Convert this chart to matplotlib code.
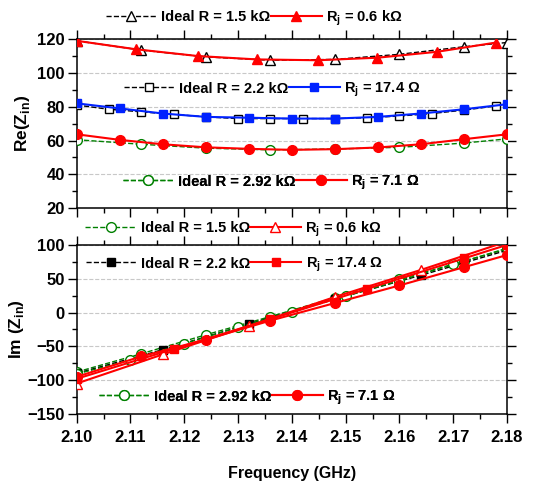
import numpy as np
import matplotlib
matplotlib.use('Agg')
import matplotlib.pyplot as plt
from matplotlib.lines import Line2D
from matplotlib.ticker import MultipleLocator, FormatStrFormatter

plt.rcParams['font.family'] = ['Liberation Sans', 'DejaVu Sans']
plt.rcParams['font.weight'] = 'bold'
plt.rcParams['mathtext.fontset'] = 'custom'
plt.rcParams['mathtext.rm'] = 'Liberation Sans:bold'
plt.rcParams['mathtext.bf'] = 'Liberation Sans:bold'

# ---- Re(Zin) data ----
f_re_tri_open = [2.100, 2.112, 2.124, 2.136, 2.148, 2.160, 2.172, 2.180]
re_ideal_15k = [119, 113.5, 109.5, 107.5, 108, 111, 115.5, 118]
f_re_tri = [2.100, 2.111, 2.1225, 2.1335, 2.1448, 2.1559, 2.167, 2.178]
re_rj_06k = [119, 114, 110, 108, 107.5, 109, 112.5, 118]

f_re_sq_open = [2.100, 2.106, 2.112, 2.118, 2.124, 2.130, 2.136, 2.142, 2.148,
                2.154, 2.160, 2.166, 2.172, 2.178]
re_ideal_22k = [81, 78.5, 77, 75.5, 74, 73, 73, 73, 73, 73.5, 74.5, 76, 78, 80.5]
f_re_sq = [2.100, 2.108, 2.116, 2.124, 2.132, 2.140, 2.148, 2.156, 2.164, 2.172, 2.180]
re_rj_174 = [82, 79, 76, 74, 73.5, 73, 73, 74, 76, 78.5, 81.5]

f_re_circ_open = [2.100, 2.112, 2.124, 2.136, 2.148, 2.160, 2.172, 2.180]
re_ideal_292k = [60.5, 57.8, 55.5, 54.5, 55, 56, 58.5, 61]
f_re_circ = [2.100, 2.108, 2.116, 2.124, 2.132, 2.140, 2.148, 2.156, 2.164, 2.172, 2.180]
re_rj_71 = [63.7, 60.4, 57.8, 56.0, 55.1, 54.5, 54.9, 55.9, 57.8, 60.8, 63.7]

# ---- Im(Zin) data ----
f_im_15k = [2.100, 2.112, 2.124, 2.136, 2.148, 2.160, 2.172, 2.180]
im_ideal_15k = [-88, -61, -33, -6, 22, 49, 76, 94]
f_im_06k = [2.100, 2.116, 2.132, 2.148, 2.164, 2.180]
im_rj_06k = [-105, -62, -20, 23, 63, 105]

f_im_22k = [2.100, 2.116, 2.132, 2.148, 2.164, 2.180]
im_ideal_22k = [-90, -55, -17, 20, 55, 92]
f_im_174 = [2.100, 2.118, 2.136, 2.154, 2.172, 2.180]
im_rj_174 = [-98, -54, -10, 35, 80, 100]

f_im_292k = [2.10, 2.11, 2.12, 2.13, 2.14, 2.15, 2.16, 2.17, 2.18]
im_ideal_292k = [-91, -70, -46, -22, 1, 24, 47, 71, 95]
f_im_71 = [2.100, 2.112, 2.124, 2.136, 2.148, 2.160, 2.172, 2.180]
im_rj_71 = [-95, -65, -40, -12, 14, 40, 67, 85]

RED = '#ff0000'
BLUE = '#0022ff'
GREEN = '#008000'
MS = 7
LEG_FS = 10.5

fig = plt.figure(figsize=(5.44, 4.83), dpi=100)
ax1 = fig.add_axes([0.141, 0.569, 0.791, 0.350])
ax2 = fig.add_axes([0.141, 0.143, 0.791, 0.350])


def style_axes(ax):
    ax.set_xlim(2.10, 2.18)
    ax.xaxis.set_major_locator(MultipleLocator(0.01))
    ax.xaxis.set_minor_locator(MultipleLocator(0.005))
    ax.tick_params(axis='both', which='both', labelsize=12, width=1)
    ax.tick_params(axis='both', which='major', length=6.5)
    ax.tick_params(axis='both', which='minor', length=3.5)
    ax.tick_params(axis='y', which='both', right=True, direction='out', pad=2)
    ax.tick_params(axis='x', which='both', top=True)
    ax.grid(True, axis='y', which='major', ls='--', color='#c8c8c8', lw=0.8)
    ax.set_axisbelow(True)
    for s in ax.spines.values():
        s.set_linewidth(1.1)


def add_legend(ax, handles, labels, x, y):
    leg = ax.legend(handles, labels, ncol=2, frameon=False, loc='center',
                    bbox_to_anchor=(x, y), bbox_transform=fig.transFigure,
                    handlelength=3.5, handletextpad=0.3, columnspacing=0.0,
                    fontsize=LEG_FS, borderpad=0, borderaxespad=0)
    ax.add_artist(leg)
    return leg


# ---- top panel ----
ax1.plot(f_re_tri_open, re_ideal_15k, ls='--', color='k', lw=1, marker='^',
         ms=MS, mfc='white', mec='k', zorder=3)
ax1.plot(f_re_tri, re_rj_06k, ls='-', color=RED, lw=1.5, marker='^',
         ms=MS, mfc=RED, mec=RED, zorder=4)
ax1.plot(f_re_sq_open, re_ideal_22k, ls='--', color='k', lw=1, marker='s',
         ms=6, mfc='white', mec='k', zorder=3)
ax1.plot(f_re_sq, re_rj_174, ls='-', color=BLUE, lw=1.5, marker='s',
         ms=6, mfc=BLUE, mec=BLUE, zorder=4)
ax1.plot(f_re_circ_open, re_ideal_292k, ls='--', color=GREEN, lw=1, marker='o',
         ms=MS, mfc='white', mec=GREEN, zorder=3)
ax1.plot(f_re_circ, re_rj_71, ls='-', color=RED, lw=1.5, marker='o',
         ms=MS, mfc=RED, mec=RED, zorder=4)

style_axes(ax1)
ax1.set_ylim(20, 120)
ax1.yaxis.set_major_locator(MultipleLocator(20))
ax1.yaxis.set_minor_locator(MultipleLocator(10))
ax1.tick_params(axis='x', labelbottom=False)
ax1.set_ylabel('Re(Z$_{\\mathrm{in}}$)', fontsize=12.5, fontweight='bold', labelpad=4)

h_id15 = Line2D([], [], ls='--', color='k', lw=1, marker='^', ms=MS, mfc='white', mec='k')
h_rj06 = Line2D([], [], ls='-', color=RED, lw=1.5, marker='^', ms=MS, mfc=RED, mec=RED)
h_id22 = Line2D([], [], ls='--', color='k', lw=1, marker='s', ms=6, mfc='white', mec='k')
h_rj174 = Line2D([], [], ls='-', color=BLUE, lw=1.5, marker='s', ms=6, mfc=BLUE, mec=BLUE)
h_id292 = Line2D([], [], ls='--', color=GREEN, lw=1, marker='o', ms=MS, mfc='white', mec=GREEN)
h_rj71 = Line2D([], [], ls='-', color=RED, lw=1.5, marker='o', ms=MS, mfc=RED, mec=RED)

add_legend(ax1, [h_id15, h_rj06], ['Ideal R = 1.5 k\u03a9', 'R$_{\\mathrm{j}}$ = 0.6 k\u03a9'],
           0.467, 1 - 18 / 483)
add_legend(ax1, [h_id22, h_rj174], ['Ideal R = 2.2 k\u03a9', 'R$_{\\mathrm{j}}$ = 17.4 \u03a9'],
           0.50, 1 - 90 / 483)
add_legend(ax1, [h_id292, h_rj71], ['Ideal R = 2.92 k\u03a9', 'R$_{\\mathrm{j}}$ = 7.1 \u03a9'],
           0.498, 1 - 183 / 483)

# ---- bottom panel ----
ax2.plot(f_im_15k, im_ideal_15k, ls='--', color=GREEN, lw=1, marker='o',
         ms=MS, mfc='white', mec=GREEN, zorder=3)
ax2.plot(f_im_06k, im_rj_06k, ls='-', color=RED, lw=1.5, marker='^',
         ms=MS, mfc='white', mec=RED, zorder=4)
ax2.plot(f_im_22k, im_ideal_22k, ls='--', color='k', lw=1, marker='s',
         ms=6, mfc='k', mec='k', zorder=3)
ax2.plot(f_im_174, im_rj_174, ls='-', color=RED, lw=1.5, marker='s',
         ms=6, mfc=RED, mec=RED, zorder=4)
ax2.plot(f_im_292k, im_ideal_292k, ls='--', color=GREEN, lw=1, marker='o',
         ms=MS, mfc='white', mec=GREEN, zorder=3)
ax2.plot(f_im_71, im_rj_71, ls='-', color=RED, lw=1.5, marker='o',
         ms=MS, mfc=RED, mec=RED, zorder=4)

style_axes(ax2)
ax2.set_ylim(-150, 100)
ax2.yaxis.set_major_locator(MultipleLocator(50))
ax2.yaxis.set_minor_locator(MultipleLocator(25))
ax2.xaxis.set_major_formatter(FormatStrFormatter('%.2f'))
ax2.tick_params(axis='x', labelsize=12, pad=5)
ax2.set_ylabel('Im (Z$_{\\mathrm{in}}$)', fontsize=12.5, fontweight='bold', labelpad=1)
ax2.set_xlabel('Frequency (GHz)', fontsize=11.5, fontweight='bold', labelpad=15)

g_id15 = Line2D([], [], ls='--', color=GREEN, lw=1, marker='o', ms=MS, mfc='white', mec=GREEN)
g_rj06 = Line2D([], [], ls='-', color=RED, lw=1.5, marker='^', ms=MS, mfc='white', mec=RED)
g_id22 = Line2D([], [], ls='--', color='k', lw=1, marker='s', ms=6, mfc='k', mec='k')
g_rj174 = Line2D([], [], ls='-', color=RED, lw=1.5, marker='s', ms=6, mfc=RED, mec=RED)

add_legend(ax2, [g_id15, g_rj06], ['Ideal R = 1.5 k\u03a9', 'R$_{\\mathrm{j}}$ = 0.6 k\u03a9'],
           0.429, 1 - 229 / 483)
add_legend(ax2, [g_id22, g_rj174], ['Ideal R = 2.2 k\u03a9', 'R$_{\\mathrm{j}}$ = 17.4 \u03a9'],
           0.43, 1 - 265 / 483)
add_legend(ax2, [h_id292, h_rj71], ['Ideal R = 2.92 k\u03a9', 'R$_{\\mathrm{j}}$ = 7.1 \u03a9'],
           0.454, 1 - 398 / 483)

fig.savefig('out.png', dpi=100)
